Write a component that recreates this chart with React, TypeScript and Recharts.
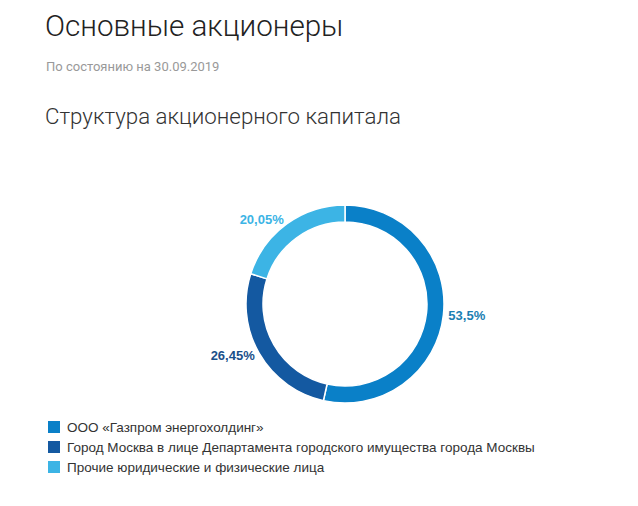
import React from 'react';
import { PieChart, Pie, Cell, Legend } from 'recharts';

const shareholders = [
  'ООО «Газпром энергохолдинг»',
  'Город Москва в лице Департамента городского имущества города Москвы',
  'Прочие юридические и физические лица',
];
const shares = [53.5, 26.45, 20.05];
const shareLabels = ['53,5%', '26,45%', '20,05%'];
const colors = ['#0a80c8', '#1459a1', '#3cb4e5'];
const labelColors = ['#1a7eb2', '#1a4f8a', '#3cb4e5'];

const data = shareholders.map((name, i) => ({ name, value: shares[i], label: shareLabels[i] }));

const RAD = Math.PI / 180;

const renderLabel = (props: any) => {
  const { cx, cy, midAngle, outerRadius, index } = props;
  const r = outerRadius + 5;
  const x = cx + r * Math.cos(-midAngle * RAD);
  const y = cy + r * Math.sin(-midAngle * RAD);
  const anchor = Math.cos(-midAngle * RAD) >= 0 ? 'start' : 'end';
  return (
    <text
      x={x}
      y={y}
      textAnchor={anchor}
      dominantBaseline="central"
      fill={labelColors[index]}
      fontFamily="Arial, 'Liberation Sans', sans-serif"
      fontSize={13}
      fontWeight="bold"
    >
      {shareLabels[index]}
    </text>
  );
};

const renderLegend = () => (
  <div style={{ fontFamily: "Arial, 'Liberation Sans', sans-serif", fontSize: 13.5, color: '#333' }}>
    {shareholders.map((name, i) => (
      <div key={name} style={{ display: 'flex', alignItems: 'center', height: 20 }}>
        <span style={{ display: 'inline-block', width: 12, height: 12, background: colors[i], marginRight: 7 }} />
        <span>{name}</span>
      </div>
    ))}
  </div>
);

export default function App() {
  return (
    <div style={{ position: 'absolute', left: 0, top: 0, width: 638, height: 506, background: '#fff' }}>
      <div style={{ position: 'absolute', left: 45, top: 9, fontFamily: 'Roboto', fontWeight: 300, fontSize: 29.6, color: '#222', whiteSpace: 'nowrap' }}>
        Основные акционеры
      </div>
      <div style={{ position: 'absolute', left: 46, top: 59, fontFamily: 'Roboto', fontWeight: 400, fontSize: 13, color: '#999', whiteSpace: 'nowrap' }}>
        По состоянию на 30.09.2019
      </div>
      <div style={{ position: 'absolute', left: 45, top: 103, fontFamily: 'Roboto', fontWeight: 300, fontSize: 22.3, color: '#333', whiteSpace: 'nowrap' }}>
        Структура акционерного капитала
      </div>
      <div style={{ position: 'absolute', left: 0, top: 0 }}>
        <PieChart width={638} height={506} margin={{ top: 0, right: 0, bottom: 0, left: 0 }}>
          <Pie
            data={data}
            dataKey="value"
            nameKey="name"
            cx={345}
            cy={304}
            innerRadius={82}
            outerRadius={99}
            startAngle={90}
            endAngle={-270}
            stroke="#fff"
            strokeWidth={1.5}
            label={renderLabel}
            labelLine={false}
            isAnimationActive={false}
          >
            {data.map((d, i) => (
              <Cell key={d.name} fill={colors[i]} />
            ))}
          </Pie>
          <Legend
            content={renderLegend}
            wrapperStyle={{ position: 'absolute', left: 48, top: 417, width: 580 }}
          />
        </PieChart>
      </div>
    </div>
  );
}
